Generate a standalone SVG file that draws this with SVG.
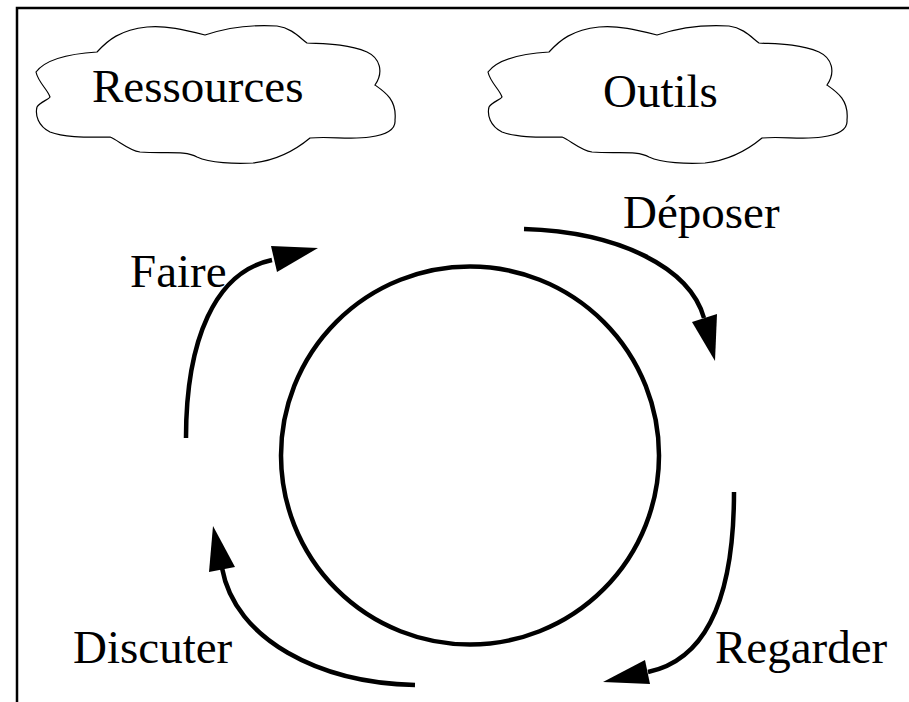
<svg xmlns="http://www.w3.org/2000/svg" width="909" height="702" viewBox="0 0 909 702">
<style>
.cloud{fill:none;stroke:#000;stroke-width:1.2}
.arc{fill:none;stroke:#000;stroke-width:4.5}
.frame{fill:none;stroke:#000;stroke-width:2.5}
</style>
<defs>
<path id="cloudShape" d="M36,72 C45,60 65,54 97,52 C108,40 120,30 147,27 C165,25 185,30 205,35 C220,30 245,24 277,26 C292,28 300,38 307,43 C320,44 345,43 367,52 C380,58 384,72 375,85 C385,92 397,100 395,120 C396,130 385,135 370,137 C350,140 330,136 310,138 C298,148 280,160 253,163 C235,164 210,163 197,157 C185,150 165,154 140,152 C128,150 118,140 110,137 C90,137 65,138 50,132 C38,126 35,115 37,107 C40,102 48,100 50,97 C48,90 38,82 36,72 Z"/>
</defs>
<path class="frame" d="M17,702 L17,8 L909,8"/>
<g font-family="'Liberation Serif', 'Times New Roman', Times, 'DejaVu Serif', serif" font-size="47" fill="#000">
<g id="ressources">
<use href="#cloudShape" class="cloud"/>
<text x="92" y="102">Ressources</text>
</g>
<g id="outils">
<use href="#cloudShape" class="cloud" transform="translate(452,0)"/>
<text x="603" y="107">Outils</text>
</g>
<g id="cycle">
<circle cx="470" cy="455.5" r="189" fill="none" stroke="#000" stroke-width="4.5"/>
</g>
<g id="connectors">
<path class="arc" d="M186,438 C186,340 215,272 272,260"/>
<path d="M318,248 L271,246 L277,272 Z"/>
<path class="arc" d="M524,229 C620,232 690,268 704,318"/>
<path d="M715,361 L692,322 L717,314 Z"/>
<path class="arc" d="M734,492 C734,600 705,660 648,672"/>
<path d="M603,682 L645,660 L650,684 Z"/>
<path class="arc" d="M415,685 C320,683 235,640 222,568"/>
<path d="M213,526 L209,572 L235,567 Z"/>
</g>
<g id="labels">
<text x="623" y="228">Déposer</text>
<text x="130" y="287">Faire</text>
<text x="73" y="663">Discuter</text>
<text x="715" y="663">Regarder</text>
</g>
</g>
</svg>
